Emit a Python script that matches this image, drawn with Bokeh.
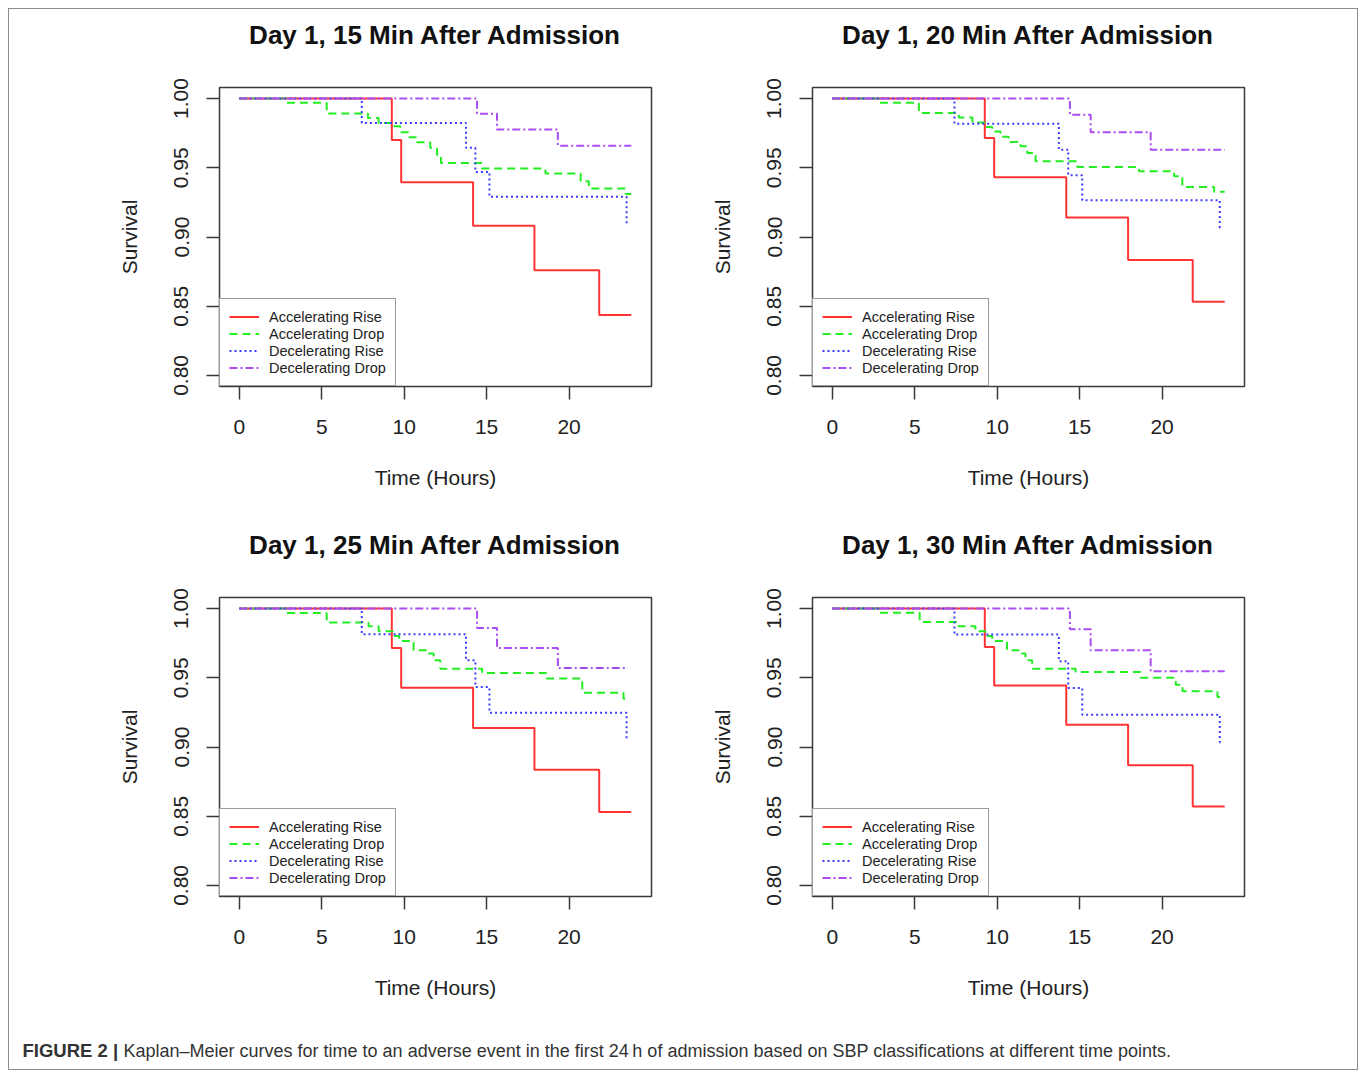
from bokeh.plotting import figure
from bokeh.models import Range1d, FixedTicker, Legend, LegendItem, Label, Title
from bokeh.layouts import column, row
from bokeh.embed import file_html
from bokeh.resources import INLINE

# ---------------- data ----------------
panel_titles = ["Day 1, 15 Min After Admission", "Day 1, 20 Min After Admission",
                "Day 1, 25 Min After Admission", "Day 1, 30 Min After Admission"]
series_names = ["Accelerating Rise", "Accelerating Drop", "Decelerating Rise", "Decelerating Drop"]
x_ticks = [0, 5, 10, 15, 20]
x_tick_labels = ["0", "5", "10", "15", "20"]
y_ticks = [0.80, 0.85, 0.90, 0.95, 1.00]
y_tick_labels = ["0.80", "0.85", "0.90", "0.95", "1.00"]
x_label = "Time (Hours)"
y_label = "Survival"
caption_bold = "FIGURE 2 |"
caption_text = ("Kaplan\u2013Meier curves for time to an adverse event in the first 24\u2009h of admission "
                "based on SBP classifications at different time points.")

# 15 min
m15_ar_t = [0, 9.25, 9.82, 14.18, 17.9, 21.83, 23.77]
m15_ar_s = [1.0, 0.970, 0.9395, 0.9082, 0.876, 0.8437, 0.8437]
m15_ad_t = [0, 2.85, 5.3, 7.8, 8.45, 9.3, 9.76, 10.3, 10.77, 11.58, 11.99, 12.23, 14.72, 18.57, 20.7, 21.2, 23.43, 23.77]
m15_ad_s = [1.0, 0.9969, 0.9892, 0.986, 0.9824, 0.980, 0.9757, 0.972, 0.9684, 0.9644, 0.9595, 0.9535, 0.9494, 0.9458, 0.9403, 0.935, 0.9311, 0.9311]
m15_dr_t = [0, 7.43, 13.75, 14.32, 15.17, 23.49, 23.58]
m15_dr_s = [1.0, 0.9824, 0.9644, 0.947, 0.929, 0.9097, 0.9097]
m15_dd_t = [0, 14.42, 15.63, 19.32, 23.77]
m15_dd_s = [1.0, 0.989, 0.9776, 0.966, 0.966]

# 20 min
m20_ar_t = [0, 9.25, 9.82, 14.19, 17.94, 21.86, 23.8]
m20_ar_s = [1.0, 0.9716, 0.9432, 0.914, 0.8834, 0.8533, 0.8533]
m20_ad_t = [0, 2.83, 5.25, 7.67, 8.5, 9.3, 9.7, 10.2, 10.7, 11.42, 11.82, 12.33, 14.86, 18.6, 20.73, 21.23, 23.16, 23.8]
m20_ad_s = [1.0, 0.9969, 0.9896, 0.9863, 0.9827, 0.9795, 0.9762, 0.9725, 0.9687, 0.9656, 0.9607, 0.9547, 0.9506, 0.9475, 0.9439, 0.9362, 0.9326, 0.9326]
m20_dr_t = [0, 7.41, 13.74, 14.31, 15.16, 23.5, 23.6]
m20_dr_s = [1.0, 0.9819, 0.9631, 0.9446, 0.9265, 0.9066, 0.9066]
m20_dd_t = [0, 14.41, 15.67, 19.31, 23.8]
m20_dd_s = [1.0, 0.9884, 0.9757, 0.9631, 0.9631]

# 25 min
m25_ar_t = [0, 9.25, 9.82, 14.18, 17.9, 21.83, 23.77]
m25_ar_s = [1.0, 0.9715, 0.9428, 0.9137, 0.8835, 0.8531, 0.8531]
m25_ad_t = [0, 2.84, 5.3, 7.84, 8.45, 9.3, 9.7, 10.57, 11.38, 11.79, 12.19, 14.73, 18.62, 20.8, 23.3, 23.5]
m25_ad_s = [1.0, 0.9968, 0.9899, 0.9872, 0.9836, 0.9802, 0.9766, 0.9699, 0.9675, 0.9627, 0.9566, 0.9535, 0.9494, 0.9392, 0.9349, 0.9349]
m25_dr_t = [0, 7.43, 13.75, 14.32, 15.17, 23.49, 23.57]
m25_dr_s = [1.0, 0.9814, 0.9626, 0.9433, 0.9247, 0.9052, 0.9052]
m25_dd_t = [0, 14.42, 15.63, 19.32, 23.57]
m25_dd_s = [1.0, 0.986, 0.9715, 0.957, 0.957]

# 30 min
m30_ar_t = [0, 9.25, 9.82, 14.19, 17.94, 21.86, 23.8]
m30_ar_s = [1.0, 0.9723, 0.9445, 0.9161, 0.8869, 0.857, 0.857]
m30_ad_t = [0, 2.83, 5.3, 7.67, 8.68, 9.29, 9.7, 10.6, 11.31, 11.72, 12.12, 14.76, 18.7, 20.83, 21.24, 23.36, 23.66]
m30_ad_s = [1.0, 0.9969, 0.9903, 0.9872, 0.9836, 0.9802, 0.9766, 0.9699, 0.9675, 0.9627, 0.9566, 0.9542, 0.9501, 0.945, 0.9403, 0.9362, 0.9362]
m30_dr_t = [0, 7.41, 13.74, 14.31, 15.16, 23.5, 23.65]
m30_dr_s = [1.0, 0.9812, 0.9619, 0.9426, 0.9233, 0.9035, 0.9035]
m30_dd_t = [0, 14.41, 15.67, 19.31, 23.8]
m30_dd_s = [1.0, 0.985, 0.9699, 0.9547, 0.9547]

panels_data = [
    [(m15_ar_t, m15_ar_s), (m15_ad_t, m15_ad_s), (m15_dr_t, m15_dr_s), (m15_dd_t, m15_dd_s)],
    [(m20_ar_t, m20_ar_s), (m20_ad_t, m20_ad_s), (m20_dr_t, m20_dr_s), (m20_dd_t, m20_dd_s)],
    [(m25_ar_t, m25_ar_s), (m25_ad_t, m25_ad_s), (m25_dr_t, m25_dr_s), (m25_dd_t, m25_dd_s)],
    [(m30_ar_t, m30_ar_s), (m30_ad_t, m30_ad_s), (m30_dr_t, m30_dr_s), (m30_dd_t, m30_dd_s)],
]

# ---------------- styles ----------------
colors = ["#ff3333", "#22ee22", "#3c3cff", "#a94cf2"]
dashes = ["solid", "8 5", "2 3", "8 3 2 3"]
FONT = "Liberation Sans"
FIG_W, FIG_H = 674, 510


def make_panel(idx, left_border, right_border):
    p = figure(width=FIG_W, height=FIG_H,
               x_range=Range1d(-1.2, 25.0), y_range=Range1d(0.792, 1.008),
               output_backend="svg", toolbar_location=None,
               min_border_left=left_border, min_border_right=right_border,
               min_border_top=78, min_border_bottom=133)
    p.background_fill_color = "white"
    p.border_fill_color = "white"
    p.outline_line_color = "#3a3a3a"
    p.outline_line_width = 1.5
    p.xgrid.visible = False
    p.ygrid.visible = False

    # spacer between the frame and the title (closest to the frame)
    p.add_layout(Title(text=" ", text_font_size="20px", standoff=14,
                       text_font=FONT), "above")

    p.title.text = panel_titles[idx]
    p.title.align = "center"
    p.title.text_font = FONT
    p.title.text_font_size = "26px"
    p.title.text_font_style = "bold"
    p.title.text_color = "#111111"
    p.title.standoff = 0

    for ax in (p.xaxis[0], p.yaxis[0]):
        ax.axis_line_color = None
        ax.major_tick_line_color = "#3a3a3a"
        ax.major_tick_line_width = 1.5
        ax.major_tick_out = 13
        ax.major_tick_in = 0
        ax.minor_tick_line_color = None
        ax.major_label_text_font = FONT
        ax.major_label_text_font_size = "21px"
        ax.major_label_text_color = "#222222"
        ax.axis_label_text_font = FONT
        ax.axis_label_text_font_size = "21px"
        ax.axis_label_text_font_style = "normal"
        ax.axis_label_text_color = "#222222"

    p.xaxis.ticker = FixedTicker(ticks=x_ticks)
    p.xaxis.major_label_overrides = {t: l for t, l in zip(x_ticks, x_tick_labels)}
    p.xaxis.axis_label = x_label
    p.xaxis.major_label_standoff = 20
    p.xaxis.axis_label_standoff = 29

    p.yaxis.ticker = FixedTicker(ticks=y_ticks)
    p.yaxis.major_label_overrides = {t: l for t, l in zip(y_ticks, y_tick_labels)}
    p.yaxis.major_label_orientation = "vertical"
    p.yaxis.axis_label = y_label
    p.yaxis.major_label_standoff = 18
    p.yaxis.axis_label_standoff = 31

    items = []
    for k, (t, s) in enumerate(panels_data[idx]):
        r = p.step(x=t, y=s, mode="after", line_color=colors[k], line_width=2,
                   line_dash=dashes[k])
        items.append(LegendItem(label=series_names[k], renderers=[r]))

    leg = Legend(items=items, location="bottom_left", margin=0, padding=9, spacing=0,
                 label_height=17, glyph_height=17, glyph_width=30, label_standoff=10,
                 border_line_color="#3a3a3a", border_line_width=1.5,
                 background_fill_color="white", background_fill_alpha=1.0,
                 label_text_font=FONT, label_text_font_size="14.5px",
                 label_text_color="#222222")
    p.add_layout(leg)
    return p


p1 = make_panel(0, 210, 32)
p2 = make_panel(1, 129, 113)
p3 = make_panel(2, 210, 32)
p4 = make_panel(3, 129, 113)

cap = figure(width=2 * FIG_W, height=40, x_range=Range1d(0, 1), y_range=Range1d(0, 1),
             x_axis_type=None, y_axis_type=None, output_backend="svg",
             toolbar_location=None, min_border=0)
cap.outline_line_color = None
cap.xgrid.visible = False
cap.ygrid.visible = False
cap.add_layout(Label(x=13, y=19, x_units="screen", y_units="screen", text=caption_bold,
                     text_font=FONT, text_font_style="bold", text_font_size="18.5px",
                     text_color="#333333", text_baseline="middle"))
cap.add_layout(Label(x=114, y=19, x_units="screen", y_units="screen", text=caption_text,
                     text_font=FONT, text_font_size="18px",
                     text_color="#333333", text_baseline="middle"))

layout = column(row(p1, p2), row(p3, p4), cap,
                styles={"border": "1px solid #8c8c8c", "margin": "8px 0 0 8px"})

open("out.html", "w").write(file_html(layout, INLINE))
